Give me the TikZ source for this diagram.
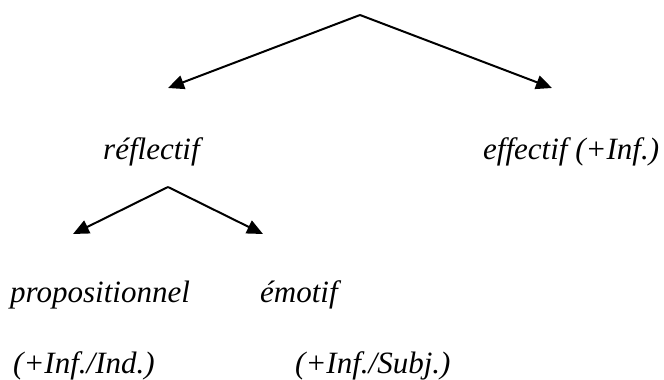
\documentclass[tikz,border=0pt]{standalone}
\usepackage{fontspec}
\setmainfont{Liberation Serif}
\usetikzlibrary{arrows.meta}
\begin{document}
\begin{tikzpicture}[x=1pt,y=-1pt,
  lbl/.style={anchor=base west,inner sep=0pt,font=\fontsize{31}{36}\selectfont\itshape},
  arr/.style={line width=2pt,-{Triangle[length=16pt,width=14pt]}}]
\useasboundingbox (0,0) rectangle (664,380);
% top split
\coordinate (top) at (360,15);
\coordinate (tl) at (168,88);
\coordinate (tr) at (552,88);
\draw[arr] (top) -- (tl);
\draw[arr] (top) -- (tr);
% labels
\node[lbl] (refl) at (103,159) {réflectif};
\node[lbl] (eff) at (483,159) {effectif (+Inf.)};
% second split
\coordinate (mid) at (168,187);
\coordinate (ml) at (73,234);
\coordinate (mr) at (263,234);
\draw[arr] (mid) -- (ml);
\draw[arr] (mid) -- (mr);
\node[lbl] (prop) at (10,302) {propositionnel};
\node[lbl] (emo) at (260,302) {émotif};
\node[lbl] (propinf) at (13,373) {(+Inf./Ind.)};
\node[lbl] (emoinf) at (295,373) {(+Inf./Subj.)};
\end{tikzpicture}
\end{document}
